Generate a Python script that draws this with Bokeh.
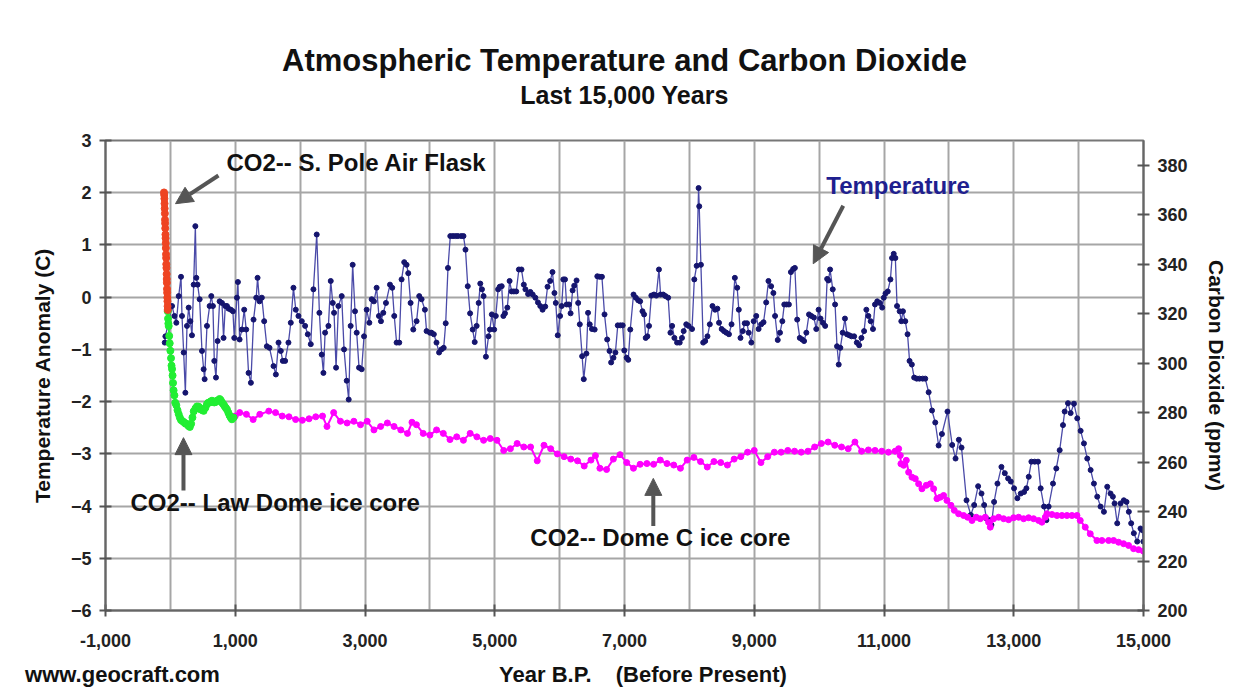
from bokeh.plotting import figure
from bokeh.models import (Range1d, LinearAxis, FixedTicker, Arrow, NormalHead,
                          Label, Title, NumeralTickFormatter)
from bokeh.embed import file_html
from bokeh.resources import INLINE

# ---------------- data ----------------
TEMP_YEAR = [
    -87, -77, 26, 62, 92, 128, 164, 179, 205, 231, 256, 282, 308, 333, 359, 385, 400, 420, 451, 487,
    513, 528, 564, 605, 631, 656, 677, 703, 728, 759, 795, 820, 846, 872, 897, 933, 964, 985,
    1026, 1041, 1067, 1103, 1138, 1169, 1205, 1241, 1282, 1323, 1344, 1374, 1410, 1446, 1487, 1528,
    1590, 1626, 1667, 1702, 1733, 1769, 1820, 1856, 1897, 1933, 1974,
    2026, 2077, 2118, 2164, 2205, 2256, 2297, 2333, 2359, 2385, 2436, 2472, 2503, 2523, 2554, 2590,
    2641, 2677, 2718, 2749, 2779, 2810, 2846, 2872, 2908, 2949, 2985,
    3026, 3067, 3103, 3138, 3179, 3215, 3246, 3282, 3323, 3385, 3420, 3451, 3487, 3528, 3564, 3605,
    3641, 3667, 3703, 3744, 3795, 3836, 3872, 3923, 3949,
    4000, 4025, 4061, 4102, 4142, 4178, 4213, 4244, 4279, 4315, 4356, 4396, 4432, 4483, 4518, 4549,
    4584, 4620, 4660, 4691, 4721, 4752, 4777, 4803, 4828, 4864, 4904, 4925, 4955, 4991,
    5016, 5052, 5077, 5107, 5133, 5158, 5194, 5229, 5260, 5295, 5331, 5372, 5412, 5448, 5473, 5514,
    5549, 5585, 5626, 5666, 5702, 5737, 5778, 5814, 5854, 5890, 5920, 5941, 5971,
    6007, 6032, 6057, 6083, 6108, 6144, 6169, 6200, 6225, 6261, 6286, 6311, 6347, 6372, 6413, 6438,
    6464, 6499, 6540, 6581, 6616, 6652, 6692, 6733, 6769, 6794, 6830, 6860, 6896, 6936, 6972, 6997,
    7033, 7058, 7089, 7139, 7175, 7211, 7241, 7277, 7302, 7327, 7353, 7378, 7414, 7454, 7490, 7531,
    7556, 7597, 7632, 7673, 7708, 7734, 7769, 7810, 7851, 7886, 7912, 7952, 7988,
    8041, 8076, 8112, 8142, 8152, 8178, 8213, 8244, 8279, 8315, 8356, 8396, 8432, 8457, 8498, 8533,
    8569, 8610, 8650, 8701, 8737, 8762, 8788, 8823, 8853, 8889, 8914, 8955, 8991,
    9031, 9067, 9107, 9143, 9184, 9219, 9260, 9295, 9321, 9362, 9397, 9433, 9463, 9499, 9534, 9565,
    9600, 9626, 9662, 9702, 9738, 9768, 9803, 9844, 9880, 9920, 9956, 9992,
    10022, 10057, 10093, 10124, 10144, 10169, 10210, 10246, 10276, 10302, 10327, 10363, 10398, 10429,
    10464, 10500, 10540, 10581, 10617, 10652, 10693, 10728, 10759, 10795, 10830, 10861, 10896, 10937,
    10972, 10997, 11023, 11058, 11099, 11124, 11150, 11175, 11201, 11241, 11267, 11292, 11328, 11363,
    11394, 11429, 11465, 11505, 11546, 11597, 11636, 11688, 11740, 11790, 11842, 11893, 11979,
    12051, 12103, 12154, 12195, 12272, 12338, 12390, 12451, 12503, 12544, 12579, 12631, 12656, 12697,
    12749, 12810, 12862, 12913, 12954,
    13005, 13056, 13108, 13159, 13195, 13231, 13272, 13323, 13374, 13415, 13467, 13503, 13538, 13605,
    13656, 13708, 13759, 13785, 13836, 13877, 13928, 13979,
    14031, 14082, 14133, 14185, 14236, 14287, 14338, 14390, 14441, 14492, 14528, 14554, 14595, 14646,
    14697, 14738, 14774, 14810, 14851, 14903, 14954, 14980, 14998,
]
TEMP_C = [
    -0.87, -0.75, -0.17, -0.36, -0.49, 0.02, 0.39, -0.36, -1.06, -1.83, -0.55, -0.20, -0.46, -0.73, 0.24, 1.36, 0.37, 0.24, -0.04, -1.03,
    -1.38, -1.57, -0.55, -0.17, 0.02, -0.17, -1.22, -1.54, -0.84, -0.08, -0.11, -0.78, -0.17, -0.17, -0.22, -0.24, -0.27, -0.78,
    -0.01, 0.29, -0.81, -0.62, -0.24, -0.62, -1.45, -1.64, -0.43, -0.01, 0.37, -0.08, -0.01, -0.46, -0.94, -0.97,
    -1.32, -1.48, -0.87, -1.03, -1.22, -1.22, -0.87, -0.49, 0.18, -0.24, -0.36,
    -0.46, -0.55, -0.71, -0.90, 0.15, 1.20, -0.30, -1.10, -1.45, -0.68, -0.55, 0.31, -0.11, -0.30, -1.35, -0.17,
    0.02, -1.00, -1.60, -1.96, -0.55, 0.62, -0.27, -0.68, -1.35, -1.38, -0.75,
    -0.24, -0.49, -0.04, -0.08, 0.18, -0.36, -0.46, -0.30, -0.11, 0.24, 0.18, -0.36, -0.87, -0.87, 0.34, 0.67,
    0.62, 0.46, -0.11, -0.62, -0.46, 0.02, -0.04, -0.24, -0.65,
    -0.68, -0.68, -0.71, -0.87, -1.06, -1.00, -0.97, -0.50, 0.56, 1.17, 1.17, 1.17, 1.17, 1.17, 1.17, 0.91,
    0.21, -0.31, -0.62, -0.86, -0.55, -0.11, 0.26, 0.15, 0.02, -1.14, -0.75, -0.62, -0.33, -0.62,
    -0.36, 0.15, 0.20, 0.21, -0.36, -0.31, -0.20, 0.31, 0.11, 0.11, 0.11, 0.53, 0.53, 0.24, 0.15, 0.06,
    0.10, 0.05, -0.01, -0.10, -0.17, -0.24, -0.18, 0.20, 0.31, 0.48, 0.08, -0.11, -0.73,
    -0.36, -0.17, 0.34, 0.34, -0.14, -0.14, -0.31, 0.13, 0.22, 0.32, -0.11, -0.52, -1.13, -1.57, -1.08, -0.30,
    -0.52, -0.61, -0.62, 0.40, 0.39, 0.39, -0.33, -0.81, -1.03, -1.25, -1.16, -1.06, -0.54, -0.54, -0.54, -1.02,
    -1.16, -1.20, -0.62, 0.05, -0.01, -0.06, -0.08, -0.27, -0.33, -0.78, -0.75, -0.55, 0.03, 0.05, 0.03, 0.53,
    0.05, 0.05, 0.02, -0.01, -0.68, -0.55, -0.78, -0.87, -0.87, -0.78, -0.65, -0.52, -0.55,
    -0.61, 0.34, 0.60, 2.09, 1.74, 0.62, -0.87, -0.84, -0.75, -0.52, -0.17, -0.24, -0.22, -0.49, -0.61, -0.65,
    -0.68, -0.71, -0.52, 0.37, 0.18, -0.24, -0.78, -0.65, -0.50, -0.50, -0.68, -0.87, -0.46,
    -0.36, -0.61, -0.52, -0.48, -0.10, 0.31, 0.21, 0.08, -0.36, -0.82, -0.68, -0.46, -0.14, -0.14, -0.14, 0.48,
    0.54, 0.56, -0.43, -0.78, -0.81, -0.84, -0.68, -0.33, -0.36, -0.39, -0.61, -0.24,
    -0.41, -0.49, -0.55, 0.35, 0.32, 0.53, 0.15, -0.14, -0.94, -1.29, -0.97, -0.68, -0.41, -0.71,
    -0.73, -0.75, -0.75, -0.87, -0.92, -0.78, -0.65, -0.24, -0.36, -0.46, -0.61, -0.14, -0.08, -0.11,
    -0.20, -0.01, 0.07, 0.11, 0.34, 0.75, 0.83, 0.75, -0.17, -0.27, -0.46, -0.27, -0.46, -0.71,
    -1.22, -1.29, -1.54, -1.56, -1.56, -1.56, -1.56, -1.82, -2.17, -2.40, -2.84, -2.62, -2.19,
    -2.83, -3.09, -2.73, -2.88, -3.89, -4.17, -3.98, -3.62, -3.76, -3.98, -4.24, -4.27, -4.36, -3.92,
    -3.57, -3.25, -3.37, -3.47, -3.53,
    -3.66, -3.85, -3.76, -3.73, -3.66, -3.44, -3.15, -3.15, -3.15, -3.66, -4.01, -4.27, -4.01, -3.57,
    -3.28, -2.93, -2.45, -2.19, -2.03, -2.22, -2.04, -2.32,
    -2.56, -2.80, -3.09, -3.31, -3.57, -3.82, -4.01, -4.11, -3.63, -3.76, -3.82, -3.95, -4.33, -3.95,
    -3.89, -3.92, -4.11, -4.33, -4.52, -4.68, -4.43, -4.46, -4.68,
]

# CO2 -- South Pole air flask (ppmv)
FLASK_YEAR = [-41, -43, -45, -47, -50, -52, -54, -56, -58, -61, -63, -65, -67, -70, -72, -74,
              -76, -79, -81, -83, -85, -88, -90, -92, -95, -98]
FLASK_PPM = [321.5, 323.0, 325.0, 326.5, 328.5, 330.0, 332.5, 334.0, 336.0, 338.5, 340.0, 342.5,
             344.0, 346.5, 348.5, 350.5, 352.0, 354.5, 356.5, 358.0, 360.5, 362.5, 364.5, 366.5,
             368.0, 369.0]

# CO2 -- Law Dome ice core (ppmv)
LAW_YEAR = [-41, -36, -31, -26, -18, -10, 0, 10, 18, 26, 34, 41, 50, 62, 75, 92, 110, 128, 146,
            164, 190, 215, 235, 256, 280, 300, 320, 340, 360, 387, 410, 436, 454, 472, 492, 513,
            540, 564, 585, 605, 623, 641, 660, 677, 698, 718, 738, 759, 777, 795, 813, 831, 852,
            872, 893, 913, 931, 949, 974]
LAW_PPM = [321.0, 318.0, 316.0, 315.0, 311.0, 308.0, 305.0, 302.0, 299.0, 297.6, 295.0, 292.0,
           289.0, 287.0, 284.0, 283.0, 281.0, 279.4, 278.0, 277.0, 276.5, 276.0, 275.5, 275.4,
           274.6, 274.2, 275.5, 278.0, 280.5, 281.7, 282.5, 282.4, 281.5, 281.3, 281.0, 280.7,
           282.0, 283.4, 284.0, 284.1, 284.5, 284.8, 284.5, 284.1, 284.3, 284.8, 285.0, 285.5,
           285.0, 284.1, 283.5, 282.8, 282.0, 281.3, 280.0, 278.8, 278.0, 277.3, 278.0]

# CO2 -- Dome C ice core (ppmv)
DOMEC_YEAR = [1000, 1069, 1172, 1276, 1379, 1517, 1621, 1724, 1828, 1931, 2034, 2138, 2241, 2345,
              2414, 2517, 2621, 2724, 2828, 2931, 3034, 3138, 3241, 3345, 3448, 3552, 3655, 3724,
              3793, 3897, 4000, 4103, 4207, 4310, 4414, 4517, 4621, 4724, 4828, 4931, 5034, 5138,
              5241, 5345, 5448, 5552, 5655, 5759, 5862, 5966, 6069, 6172, 6276, 6379, 6483, 6552,
              6621, 6724, 6828, 6931, 7034, 7138, 7241, 7345, 7448, 7552, 7655, 7759, 7862, 7966,
              8069, 8172, 8276, 8379, 8483, 8586, 8690, 8793, 8897, 9000, 9103, 9207, 9310, 9414,
              9517, 9621, 9724, 9828, 9931, 10034, 10138, 10241, 10345, 10448, 10552, 10655, 10759,
              10862, 10966, 11069, 11172, 11226, 11251, 11261, 11303, 11344, 11380, 11431, 11482,
              11534, 11585, 11652, 11714, 11765, 11816, 11868, 11919, 11970, 12032, 12083, 12150,
              12227, 12289, 12356, 12422, 12484, 12561, 12612, 12638, 12690, 12767, 12844, 12921,
              12998, 13075, 13152, 13229, 13306, 13383, 13434, 13486, 13512, 13589, 13666, 13743,
              13820, 13897, 13974, 14025, 14102, 14179, 14282, 14359, 14462, 14539, 14616, 14693,
              14770, 14847, 14924, 14998]
DOMEC_PPM = [278.6, 280.0, 279.3, 277.2, 279.3, 280.6, 280.0, 278.6, 278.3, 277.2, 276.9, 277.5,
             278.3, 278.6, 274.4, 280.0, 276.5, 275.8, 276.5, 275.1, 276.5, 273.0, 274.4, 275.8,
             274.4, 273.0, 271.6, 276.1, 275.1, 271.6, 270.9, 273.0, 271.6, 269.1, 270.2, 268.8,
             271.6, 270.2, 268.8, 269.5, 268.8, 264.7, 265.4, 267.5, 266.1, 266.1, 260.5, 266.8,
             265.4, 263.3, 262.2, 261.2, 260.5, 258.4, 260.8, 262.6, 257.5, 257.0, 261.2, 263.0,
             259.8, 257.5, 259.1, 259.4, 259.1, 260.8, 259.4, 258.8, 257.5, 260.8, 261.9, 260.2,
             258.0, 260.2, 259.8, 258.8, 261.2, 262.2, 264.0, 264.7, 259.8, 262.2, 264.0, 264.0,
             264.7, 264.4, 264.0, 264.4, 266.1, 267.5, 268.1, 266.8, 266.1, 265.4, 268.1, 264.4,
             264.9, 264.7, 264.4, 264.0, 264.4, 265.4, 262.7, 259.3, 258.7, 260.7, 255.9, 253.9,
             253.3, 251.2, 249.2, 250.6, 251.2, 249.2, 245.2, 245.8, 246.5, 244.5, 242.5, 240.5,
             239.1, 238.4, 237.7, 236.4, 237.7, 237.1, 237.7, 235.7, 233.7, 237.1, 237.7, 237.1,
             236.7, 237.5, 237.7, 237.1, 237.5, 237.1, 236.4, 235.7, 237.7, 239.1, 238.8, 238.4,
             238.4, 238.4, 238.4, 238.4, 236.4, 233.7, 231.0, 228.3, 228.3, 228.3, 228.3, 227.6,
             227.0, 226.3, 225.0, 224.6, 224.0]

X_TICKS = [-1000, 1000, 3000, 5000, 7000, 9000, 11000, 13000, 15000]
Y_TICKS = [-6, -5, -4, -3, -2, -1, 0, 1, 2, 3]
CO2_TICKS = [200, 220, 240, 260, 280, 300, 320, 340, 360, 380]
FOOT_TEXTS = {-738: "www.geocraft.com", 5780: "Year B.P.", 8184: "(Before Present)"}

FONT = "Liberation Sans"

# ---------------- figure ----------------
p = figure(width=1246, height=696, output_backend="svg", toolbar_location=None,
           x_range=Range1d(-1000, 15000), y_range=Range1d(-6, 3), title=None,
           min_border_left=105, min_border_right=103, min_border_top=140, min_border_bottom=86)
p.extra_y_ranges = {"co2": Range1d(200, 390)}
p.background_fill_color = "white"
p.border_fill_color = "white"
p.outline_line_color = "#777777"
p.outline_line_width = 2

bottom = p.below[0]
left = p.left[0]

# subtitle carried by a bare axis on top of the frame
sub_axis = LinearAxis(ticker=FixedTicker(ticks=[]), axis_label="Last 15,000 Years",
                      axis_line_color=None, major_tick_line_color=None,
                      minor_tick_line_color=None, major_tick_out=0, major_tick_in=0,
                      major_label_standoff=0, axis_label_standoff=32,
                      axis_label_text_font=FONT, axis_label_text_font_size="25px",
                      axis_label_text_font_style="bold", axis_label_text_color="#111111")
p.add_layout(sub_axis, "above")
main = Title(text="Atmospheric Temperature and Carbon Dioxide", align="center", text_font=FONT,
             text_font_size="31px", text_font_style="bold", text_color="#111111", standoff=0)
p.add_layout(main, "above")

# grids
p.xgrid.ticker = FixedTicker(ticks=list(range(-1000, 15001, 1000)))
p.ygrid.ticker = FixedTicker(ticks=Y_TICKS)
for g in (p.xgrid[0], p.ygrid[0]):
    g.grid_line_color = "#a6a6a6"
    g.grid_line_width = 2

# axes
bottom.ticker = FixedTicker(ticks=X_TICKS)
bottom.formatter = NumeralTickFormatter(format="0,0")
left.ticker = FixedTicker(ticks=Y_TICKS)
left.axis_label = "Temperature Anomaly (C)"

right = LinearAxis(y_range_name="co2", ticker=FixedTicker(ticks=CO2_TICKS),
                   axis_label="Carbon Dioxide (ppmv)")
p.add_layout(right, "right")

for ax in (bottom, left, right):
    ax.axis_line_color = "#666666"
    ax.axis_line_width = 2
    ax.major_tick_line_color = "#555555"
    ax.major_tick_line_width = 2
    ax.major_tick_in = 6
    ax.major_tick_out = 6
    ax.minor_tick_line_color = None
    ax.major_label_text_font = FONT
    ax.major_label_text_font_size = "18px"
    ax.major_label_text_font_style = "bold"
    ax.major_label_text_color = "#222222"
    ax.axis_label_text_font = FONT
    ax.axis_label_text_font_size = "21px"
    ax.axis_label_text_font_style = "bold"
    ax.axis_label_text_color = "#111111"
bottom.major_label_standoff = 17
left.major_label_standoff = 8
right.major_label_standoff = 8
left.axis_label_standoff = 14
right.axis_label_standoff = 14

# footer row (x-axis title and credit) as a bare axis below the tick labels
foot = LinearAxis(ticker=FixedTicker(ticks=list(FOOT_TEXTS.keys())),
                  major_label_overrides=FOOT_TEXTS,
                  axis_line_color=None, major_tick_line_color=None, minor_tick_line_color=None,
                  major_tick_out=0, major_tick_in=0, major_label_standoff=12,
                  major_label_text_font=FONT, major_label_text_font_size="22px",
                  major_label_text_font_style="bold", major_label_text_color="#111111")
p.add_layout(foot, "below")

# ---------------- series ----------------
p.line(TEMP_YEAR, TEMP_C, line_color="#4a4aa8", line_width=1.3)
p.scatter(TEMP_YEAR, TEMP_C, size=5, fill_color="#15156e", line_color="#15156e")

p.line(DOMEC_YEAR, DOMEC_PPM, y_range_name="co2", line_color="#ff00ff", line_width=2)
p.scatter(DOMEC_YEAR, DOMEC_PPM, y_range_name="co2", size=6, fill_color="#ff00ff",
          line_color="#ff00ff")
p.line(LAW_YEAR, LAW_PPM, y_range_name="co2", line_color="#22ee33", line_width=2)
p.scatter(LAW_YEAR, LAW_PPM, y_range_name="co2", size=7, fill_color="#22ee33",
          line_color="#22ee33")
p.line(FLASK_YEAR, FLASK_PPM, y_range_name="co2", line_color="#ee4422", line_width=2)
p.scatter(FLASK_YEAR, FLASK_PPM, y_range_name="co2", size=7, fill_color="#ee4422",
          line_color="#ee4422")

# ---------------- annotations ----------------
def note(x, y, text, color="#111111", size="24px"):
    p.add_layout(Label(x=x, y=y, text=text, text_font=FONT, text_font_size=size,
                       text_font_style="bold", text_color=color, text_baseline="middle",
                       text_align="left"))

def arrow(x0, y0, x1, y1):
    p.add_layout(Arrow(end=NormalHead(size=17, fill_color="#555555", line_color="#555555"),
                       x_start=x0, y_start=y0, x_end=x1, y_end=y1,
                       line_color="#555555", line_width=4))

note(865, 2.58, "CO2-- S. Pole Air Flask")
arrow(741, 2.33, 79, 1.79)
note(10110, 2.14, "Temperature", color="#1f1f8f")
arrow(10372, 1.75, 9909, 0.64)
note(-615, -3.93, "CO2-- Law Dome ice core")
arrow(202, -3.70, 202, -2.69)
note(5549, -4.60, "CO2-- Dome C ice core")
arrow(7444, -4.38, 7444, -3.47)

open("out.html", "w").write(file_html(p, INLINE))
